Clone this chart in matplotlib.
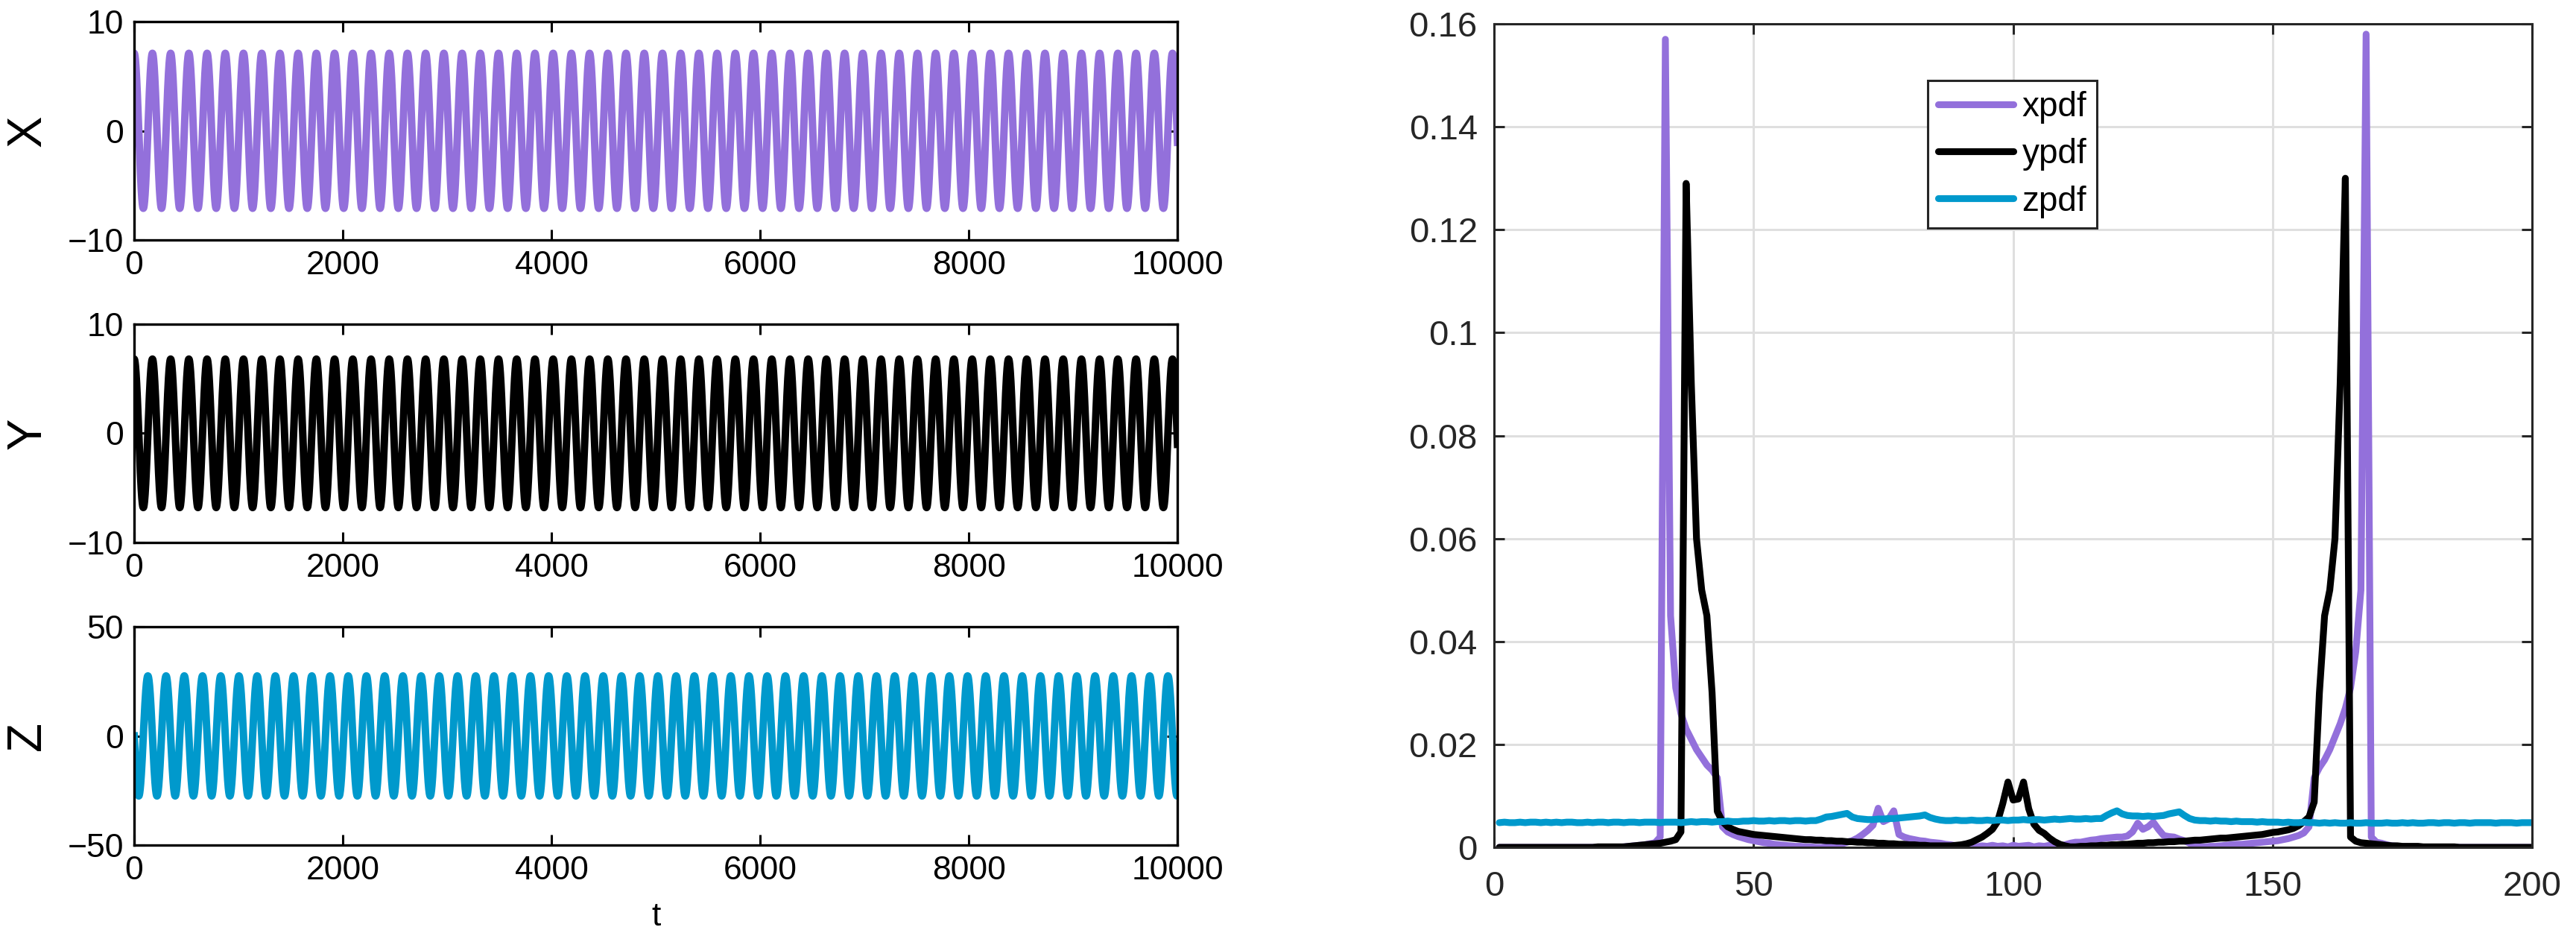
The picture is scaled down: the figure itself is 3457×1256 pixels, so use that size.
import numpy as np
import matplotlib
matplotlib.use('Agg')  # Non-interactive backend
import matplotlib.pyplot as plt
from matplotlib.ticker import FormatStrFormatter

plt.rcParams['font.family'] = ['Liberation Sans', 'DejaVu Sans']

# ---- time series (periodic orbit) ----
T_END = 10000
PERIOD = 174.6          # one oscillation, in samples
X_AMP = 7.1
Y_AMP = 6.8
Z_AMP = 27.5

series_names = ['X', 'Y', 'Z']
series_ylims = [(-10, 10), (-10, 10), (-50, 50)]
series_yticks = [[-10, 0, 10], [-10, 0, 10], [-50, 0, 50]]
time_ticks = [0, 2000, 4000, 6000, 8000, 10000]

# ---- pdfs over 200 bins ----
bins = np.arange(1, 201)

xpdf = [
    0, 0, 0, 0, 0, 0, 0, 0, 0, 0,
    0, 0, 0, 0, 0, 0, 0, 0, 0, 0,
    0, 0, 0, 0, 0.0001, 0.0002, 0.0003, 0.0004, 0.0005, 0.0007,
    0.0009, 0.002, 0.157, 0.045, 0.031, 0.026, 0.023, 0.021, 0.019, 0.0175,
    0.016, 0.015, 0.0135, 0.004, 0.003, 0.0025, 0.0021, 0.0018, 0.0015, 0.0013,
    0.0011, 0.0009, 0.0008, 0.0006, 0.0005, 0.0004, 0.0003, 0.0002, 0.0002, 0.0001,
    0.0001, 0, 0, 0.0001, 0.0003, 0.0005, 0.0007, 0.001, 0.0013, 0.0018,
    0.0025, 0.0033, 0.0043, 0.0076, 0.005, 0.0055, 0.0071, 0.0025, 0.002, 0.0017,
    0.0015, 0.0013, 0.0012, 0.001, 0.0009, 0.0008, 0.0006, 0.0005, 0.0003, 0.0003,
    0.0002, 0.0004, 0.0001, 0.0003, 0.0002, 0.0004, 0.0002, 0.0003, 0.0001, 0.0004,
    0.0002, 0.0003, 0.0004, 0.0001, 0.0003, 0.0002, 0.0004, 0.0003, 0.0002, 0.0005,
    0.0008, 0.001, 0.001, 0.0012, 0.0014, 0.0015, 0.0017, 0.0018, 0.0019, 0.002,
    0.002, 0.0022, 0.003, 0.0047, 0.0035, 0.004, 0.0049, 0.0035, 0.0023, 0.0021,
    0.002, 0.0016, 0.0013, 0.0008, 0.0004, 0.0001, 0.0001, 0.0002, 0.0002, 0.0003,
    0.0004, 0.0005, 0.0006, 0.0006, 0.0007, 0.0008, 0.0009, 0.001, 0.0011, 0.0012,
    0.0013, 0.0015, 0.0017, 0.002, 0.0023, 0.0028, 0.004, 0.0135, 0.0155, 0.017,
    0.019, 0.0215, 0.024, 0.027, 0.031, 0.038, 0.05, 0.158, 0.002, 0.001,
    0.0008, 0.0005, 0.0003, 0.0002, 0.0001, 0.0001, 0, 0, 0, 0,
    0, 0, 0, 0, 0, 0, 0, 0, 0, 0,
    0, 0, 0, 0, 0, 0, 0, 0, 0, 0,
]

ypdf = [
    0, 0, 0, 0, 0, 0, 0, 0, 0, 0,
    0, 0, 0, 0, 0, 0, 0, 0, 0, 0.0001,
    0.0001, 0.0001, 0.0001, 0.0001, 0.0001, 0.0002, 0.0003, 0.0004, 0.0005, 0.0006,
    0.0007, 0.0008, 0.001, 0.0012, 0.0015, 0.003, 0.129, 0.09, 0.06, 0.05,
    0.045, 0.03, 0.007, 0.005, 0.004, 0.0035, 0.0031, 0.0029, 0.0027, 0.0025,
    0.0024, 0.0023, 0.0022, 0.0021, 0.002, 0.0019, 0.0018, 0.0017, 0.0016, 0.0015,
    0.0015, 0.0014, 0.0014, 0.0013, 0.0013, 0.0012, 0.0012, 0.0011, 0.0011, 0.001,
    0.001, 0.0009, 0.0009, 0.0008, 0.0008, 0.0007, 0.0007, 0.0006, 0.0006, 0.0005,
    0.0005, 0.0004, 0.0004, 0.0003, 0.0003, 0.0003, 0.0003, 0.0003, 0.0004, 0.0005,
    0.0007, 0.001, 0.0015, 0.002, 0.0027, 0.0035, 0.005, 0.0085, 0.0127, 0.0092,
    0.0094, 0.0127, 0.0075, 0.0045, 0.0033, 0.0027, 0.0018, 0.0011, 0.0006, 0.0003,
    0.0001, 0.0001, 0.0002, 0.0002, 0.0003, 0.0003, 0.0004, 0.0004, 0.0005, 0.0005,
    0.0006, 0.0006, 0.0007, 0.0008, 0.0008, 0.0009, 0.0009, 0.001, 0.001, 0.0011,
    0.0011, 0.0012, 0.0012, 0.0013, 0.0014, 0.0014, 0.0015, 0.0016, 0.0017, 0.0018,
    0.0018, 0.0019, 0.002, 0.0021, 0.0022, 0.0023, 0.0024, 0.0025, 0.0027, 0.0029,
    0.003, 0.0032, 0.0034, 0.0037, 0.0042, 0.005, 0.0059, 0.0088, 0.03, 0.045,
    0.05, 0.06, 0.09, 0.13, 0.002, 0.0012, 0.0009, 0.0008, 0.0007, 0.0006,
    0.0005, 0.0004, 0.0003, 0.0003, 0.0002, 0.0002, 0.0002, 0.0002, 0.0001, 0.0001,
    0.0001, 0.0001, 0.0001, 0.0001, 0.0001, 0, 0, 0, 0, 0,
    0, 0, 0, 0, 0, 0, 0, 0, 0, 0,
]

zpdf = [
    0.0048, 0.0049, 0.0048, 0.0048, 0.0049, 0.0048, 0.0049, 0.0049, 0.0048, 0.0049,
    0.0048, 0.0049, 0.0048, 0.0049, 0.0049, 0.0048, 0.0048, 0.0049, 0.0048, 0.0049,
    0.0049, 0.0048, 0.0049, 0.0049, 0.0048, 0.0049, 0.0049, 0.0048, 0.0049, 0.0049,
    0.0049, 0.0048, 0.0049, 0.0049, 0.0049, 0.0048, 0.0049, 0.005, 0.0049, 0.005,
    0.005, 0.0049, 0.005, 0.005, 0.0051, 0.005, 0.005, 0.0051, 0.0051, 0.0052,
    0.0051, 0.0051, 0.0052, 0.0051, 0.0052, 0.0052, 0.0051, 0.0052, 0.0052, 0.0051,
    0.0052, 0.0052, 0.0055, 0.0059, 0.006, 0.0062, 0.0064, 0.0066, 0.0059, 0.0056,
    0.0055, 0.0054, 0.0054, 0.0055, 0.0055, 0.0056, 0.0056, 0.0057, 0.0058, 0.0059,
    0.006, 0.0061, 0.0063, 0.0058, 0.0055, 0.0053, 0.0052, 0.0052, 0.0053, 0.0052,
    0.0052, 0.0053, 0.0052, 0.0052, 0.0053, 0.0052, 0.0053, 0.0053, 0.0052, 0.0053,
    0.0053, 0.0054, 0.0053, 0.0054, 0.0054, 0.0053, 0.0054, 0.0055, 0.0054, 0.0055,
    0.0056, 0.0055, 0.0055, 0.0056, 0.0055, 0.0056, 0.0056, 0.0062, 0.0067, 0.0071,
    0.0065, 0.0062, 0.0061, 0.0061, 0.006, 0.0061, 0.006, 0.0061, 0.0062, 0.0065,
    0.0067, 0.0069, 0.0062, 0.0056, 0.0053, 0.0052, 0.0052, 0.0051, 0.0052, 0.0051,
    0.0051, 0.005, 0.0051, 0.005, 0.005, 0.005, 0.0049, 0.005, 0.0049, 0.0049,
    0.0049, 0.0048, 0.0049, 0.0048, 0.0048, 0.0049, 0.0048, 0.0048, 0.0047, 0.0048,
    0.0047, 0.0048, 0.0047, 0.0047, 0.0048, 0.0047, 0.0047, 0.0048, 0.0047, 0.0047,
    0.0047, 0.0048, 0.0047, 0.0047, 0.0048, 0.0047, 0.0048, 0.0047, 0.0047, 0.0048,
    0.0048, 0.0047, 0.0048, 0.0048, 0.0047, 0.0048, 0.0048, 0.0047, 0.0048, 0.0048,
    0.0048, 0.0048, 0.0047, 0.0048, 0.0048, 0.0048, 0.0047, 0.0048, 0.0048, 0.0048,
]

pdf_names = ['xpdf', 'ypdf', 'zpdf']
pdf_xticks = [0, 50, 100, 150, 200]
pdf_yticks = [0, 0.02, 0.04, 0.06, 0.08, 0.1, 0.12, 0.14, 0.16]

PURPLE = '#9370db'
CYAN = '#0099cc'
colors = [PURPLE, 'black', CYAN]
DARK = '#262626'


def main():
    t = np.arange(0, T_END + 1)
    phase = 2 * np.pi * t / PERIOD
    signals = [X_AMP * np.cos(phase), Y_AMP * np.cos(phase), -Z_AMP * np.sin(phase)]

    fig = plt.figure(figsize=(17.285, 6.28), dpi=200)

    # left column: the three time series
    left, width = 0.0521, 0.405
    bottoms = [0.7436, 0.4204, 0.0971]
    for i in range(3):
        ax = fig.add_axes([left, bottoms[i], width, 0.2333])
        ax.plot(t, signals[i], color=colors[i], lw=3.6)
        ax.set_xlim(0, T_END)
        ax.set_ylim(*series_ylims[i])
        ax.set_xticks(time_ticks)
        ax.set_yticks(series_yticks[i])
        ax.tick_params(direction='in', length=5, width=1.1, top=True, right=True,
                       labelsize=16, pad=5, colors='black')
        for s in ax.spines.values():
            s.set_linewidth(1.2)
        ax.set_ylabel(series_names[i], fontsize=23, va='center')
        ax.yaxis.set_label_coords(-0.102, 0.5)
        if i == 2:
            ax.set_xlabel('t', fontsize=16, va='center')
            ax.xaxis.set_label_coords(0.5, -0.33)

    # right column: pdfs
    ax = fig.add_axes([0.58, 0.0947, 0.403, 0.8798])
    for vals, name, c in zip([xpdf, ypdf, zpdf], pdf_names, colors):
        ax.plot(bins, vals, color=c, lw=3.3, label=name,
                solid_joinstyle='round', solid_capstyle='round')
    ax.set_xlim(0, 200)
    ax.set_ylim(0, 0.16)
    ax.set_xticks(pdf_xticks)
    ax.set_yticks(pdf_yticks)
    ax.yaxis.set_major_formatter(FormatStrFormatter('%g'))
    ax.grid(True, color='#dfdfdf', lw=1.1)
    ax.set_axisbelow(True)
    ax.tick_params(direction='in', length=5, width=1.1, top=True, right=True,
                   labelsize=17, colors=DARK)
    ax.tick_params(axis='x', pad=11)
    ax.tick_params(axis='y', pad=8)
    for s in ax.spines.values():
        s.set_linewidth(1.1)
        s.set_color(DARK)

    leg = ax.legend(loc='upper left', bbox_to_anchor=(0.418, 0.931), fontsize=16.5,
                    frameon=True, fancybox=False, framealpha=1, edgecolor=DARK,
                    handlelength=2.2, borderpad=0.3, labelspacing=0.42,
                    handletextpad=0.25, borderaxespad=0)
    leg.get_frame().set_linewidth(1.1)

    fig.savefig('out.png', dpi=200)
    plt.close(fig)


if __name__ == '__main__':
    main()
